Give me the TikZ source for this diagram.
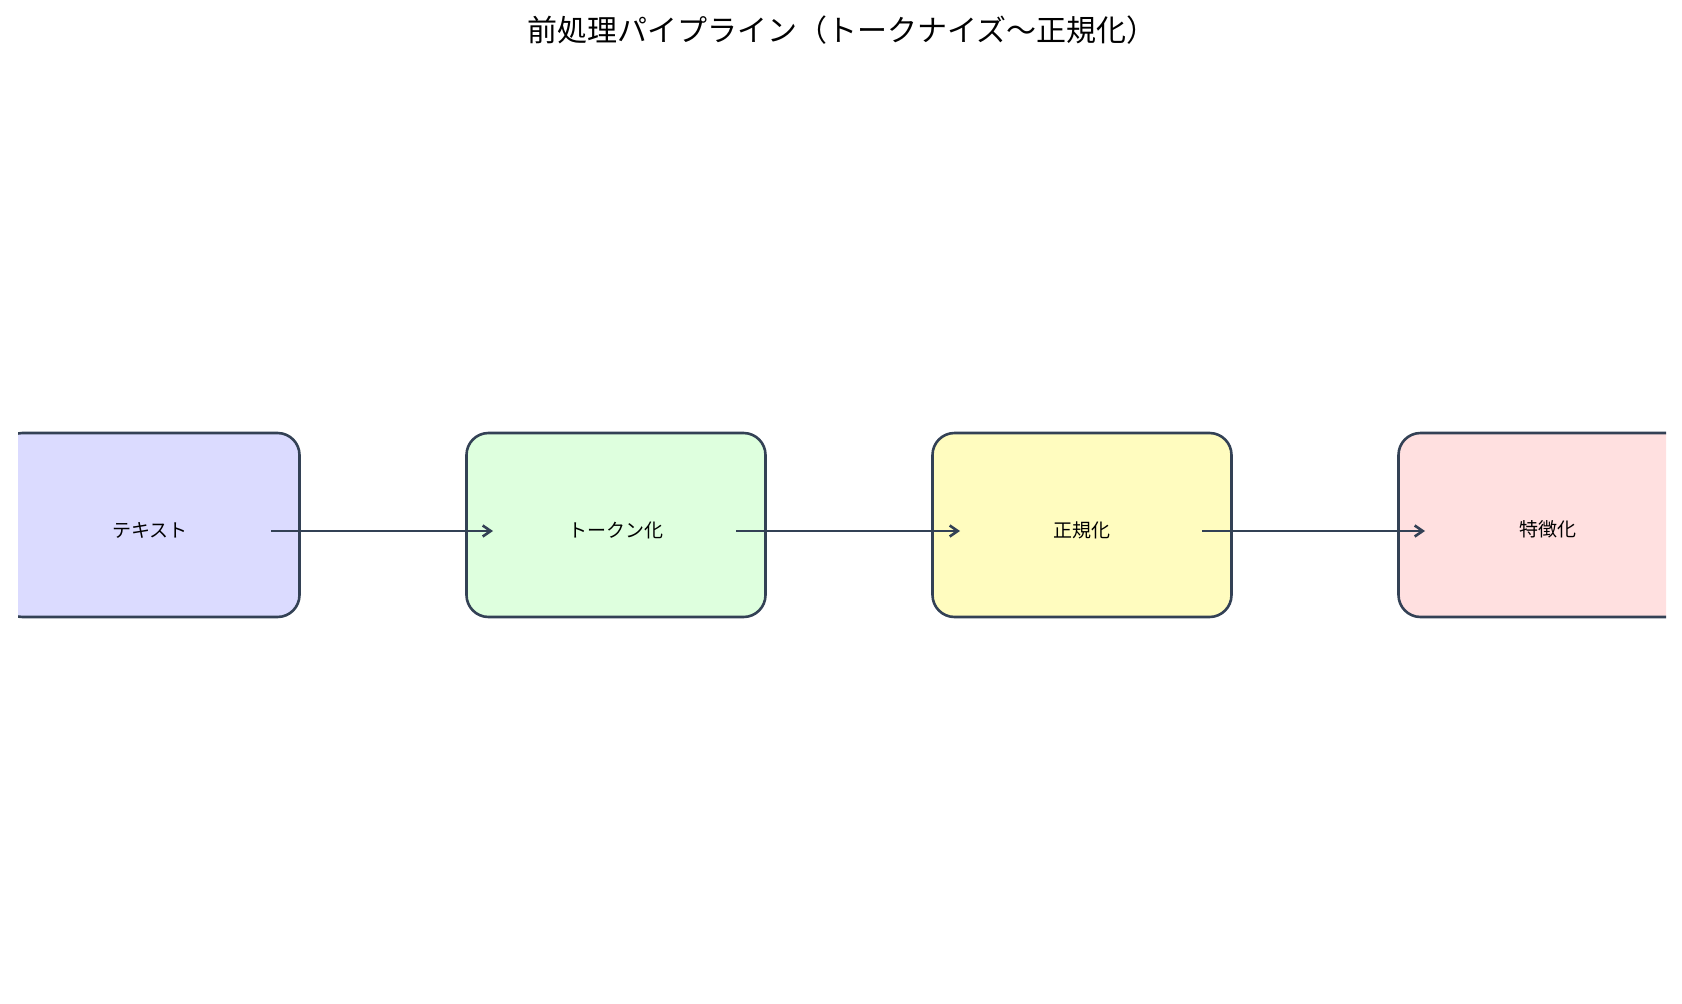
\documentclass[tikz,border=0pt]{standalone}
\usepackage{fontspec}
\setmainfont{Noto Sans CJK JP}
\usetikzlibrary{arrows.meta}
\definecolor{edge}{HTML}{334155}
\tikzset{
  stage/.style={draw=edge, line width=2.6pt, rounded corners=22pt, minimum width=299pt, minimum height=184pt, font=\fontsize{19}{22}\selectfont},
  flow/.style={draw=edge, line width=2.6pt, -{Straight Barb[length=8pt,width=11pt,line width=2.6pt]}}
}
\begin{document}
\begin{tikzpicture}[x=1pt,y=-1pt]
\useasboundingbox (0,0) rectangle (1682,1004);
\node[font=\fontsize{30}{34}\selectfont] (title) at (842,30) {前処理パイプライン（トークナイズ〜正規化）};
\begin{scope}
\clip (18,0) rectangle (1666,1004);
\node[stage, fill=blue!14] (a) at (150,525) {};
\node[stage, fill=green!13] (b) at (616,525) {};
\node[stage, fill=yellow!25] (c) at (1082,525) {};
\node[stage, fill=red!12] (d) at (1548,525) {};
\end{scope}
\node[font=\fontsize{19}{22}\selectfont] (ta) at (150,530) {テキスト};
\node[font=\fontsize{19}{22}\selectfont] (tb) at (616,530) {トークン化};
\node[font=\fontsize{19}{22}\selectfont] (tc) at (1082,530) {正規化};
\node[font=\fontsize{19}{22}\selectfont] (td) at (1548,529) {特徴化};
\coordinate (a1) at (271,531); \coordinate (b0) at (493,531);
\coordinate (b1) at (736,531); \coordinate (c0) at (960,531);
\coordinate (c1) at (1202,531); \coordinate (d0) at (1425,531);
\draw[flow] (a1) -- (b0);
\draw[flow] (b1) -- (c0);
\draw[flow] (c1) -- (d0);
\end{tikzpicture}
\end{document}
